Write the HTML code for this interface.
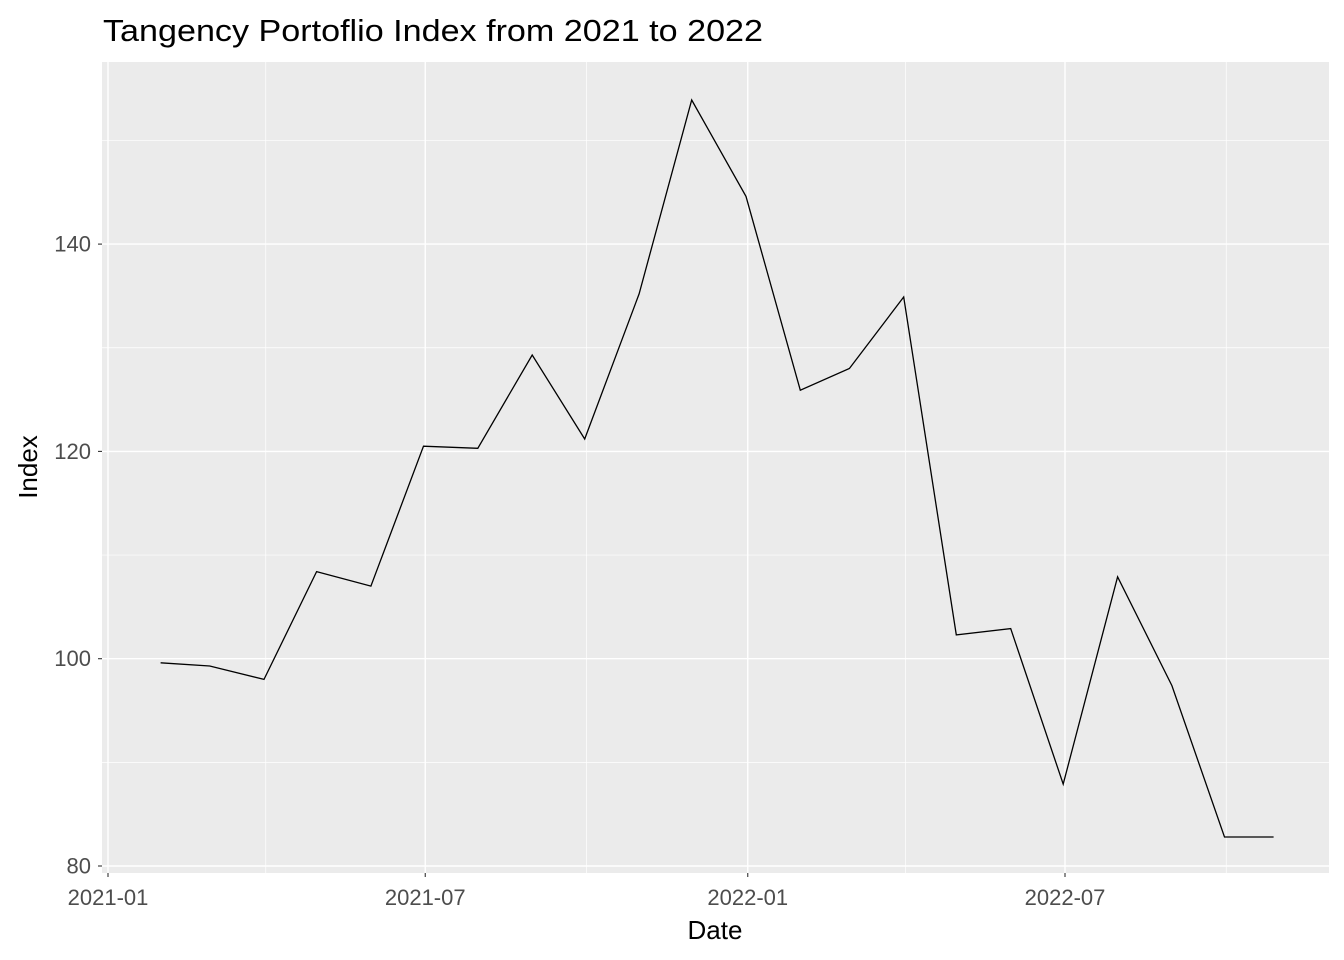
<!DOCTYPE html>
<html><head><meta charset="utf-8"><style>
html,body{margin:0;padding:0;background:#fff;}
svg{display:block;font-family:"Liberation Sans",Arial,sans-serif;}
</style></head><body>
<svg id="chart" width="1344" height="960" xmlns="http://www.w3.org/2000/svg">
<text x="103" y="41" font-size="31" fill="#000" textLength="660" lengthAdjust="spacingAndGlyphs">Tangency Portoflio Index from 2021 to 2022</text>
<rect x="102" y="62" width="1227" height="811" fill="#ebebeb"/>
<g id="grid"></g>
<g id="axes"></g>
<path id="line" fill="none" stroke="#000" stroke-width="1.3"/>
<text x="715" y="939" font-size="26" text-anchor="middle" fill="#000">Date</text>
<text x="0" y="0" font-size="26" text-anchor="middle" fill="#000" transform="translate(37,467) rotate(-90)">Index</text>
</svg>
<script>
const dates=["2021-01-31","2021-02-28","2021-03-31","2021-04-30","2021-05-31","2021-06-30","2021-07-31","2021-08-31","2021-09-30","2021-10-31","2021-11-30","2021-12-31","2022-01-31","2022-02-28","2022-03-31","2022-04-30","2022-05-31","2022-06-30","2022-07-31","2022-08-31","2022-09-30","2022-10-28"];
const values=[99.6,99.3,98.0,108.4,107.0,120.5,120.3,129.3,121.2,135.2,153.9,144.6,125.9,128.0,134.9,102.3,102.9,87.9,107.9,97.4,82.8,82.8];
const yTicks=[80,100,120,140];
const yMinor=[90,110,130,150];
const xTicks=["2021-01-01","2021-07-01","2022-01-01","2022-07-01"];
const xTickLabels=["2021-01","2021-07","2022-01","2022-07"];
const xMinor=["2021-04-01","2021-10-01","2022-04-01","2022-10-01"];

const NS="http://www.w3.org/2000/svg";
const t0=Date.UTC(2021,0,1);
function day(s){const p=s.split("-").map(Number);return (Date.UTC(p[0],p[1]-1,p[2])-t0)/86400000;}
function xs(s){return 108+day(s)*(957/546);}
function ys(v){return 866-(v-80)*(207.3/20);}
function mk(tag,attrs,parent){const e=document.createElementNS(NS,tag);for(const k in attrs)e.setAttribute(k,attrs[k]);parent.appendChild(e);return e;}
const grid=document.getElementById("grid"),axes=document.getElementById("axes");
yMinor.forEach(v=>{const l=mk("line",{x1:102,x2:1329,y1:ys(v),y2:ys(v),stroke:"#fff","stroke-width":0.7},grid);

});
xMinor.forEach(d=>{const l=mk("line",{x1:xs(d),x2:xs(d),y1:62,y2:873,stroke:"#fff","stroke-width":0.7},grid);

});
yTicks.forEach(v=>{const y=ys(v);
const l=mk("line",{x1:102,x2:1329,y1:y,y2:y,stroke:"#fff","stroke-width":1.4},grid);


const tk=mk("line",{x1:98,x2:102,y1:y,y2:y,stroke:"#333","stroke-width":1.1},axes);


const t=mk("text",{x:91,y:y+7.5,"font-size":"22","text-anchor":"end",fill:"#4d4d4d"},axes);t.textContent=v;

});
xTicks.forEach((d,i)=>{const x=xs(d);
const l=mk("line",{x1:x,x2:x,y1:62,y2:873,stroke:"#fff","stroke-width":1.4},grid);


const tk=mk("line",{x1:x,x2:x,y1:873,y2:877,stroke:"#333","stroke-width":1.1},axes);


const t=mk("text",{x:x,y:905,"font-size":"22","text-anchor":"middle",fill:"#4d4d4d"},axes);t.textContent=xTickLabels[i];

});
document.getElementById("line").setAttribute("d",dates.map((d,i)=>(i?"L":"M")+xs(d).toFixed(1)+","+ys(values[i]).toFixed(1)).join(""));
</script>
</body></html>
